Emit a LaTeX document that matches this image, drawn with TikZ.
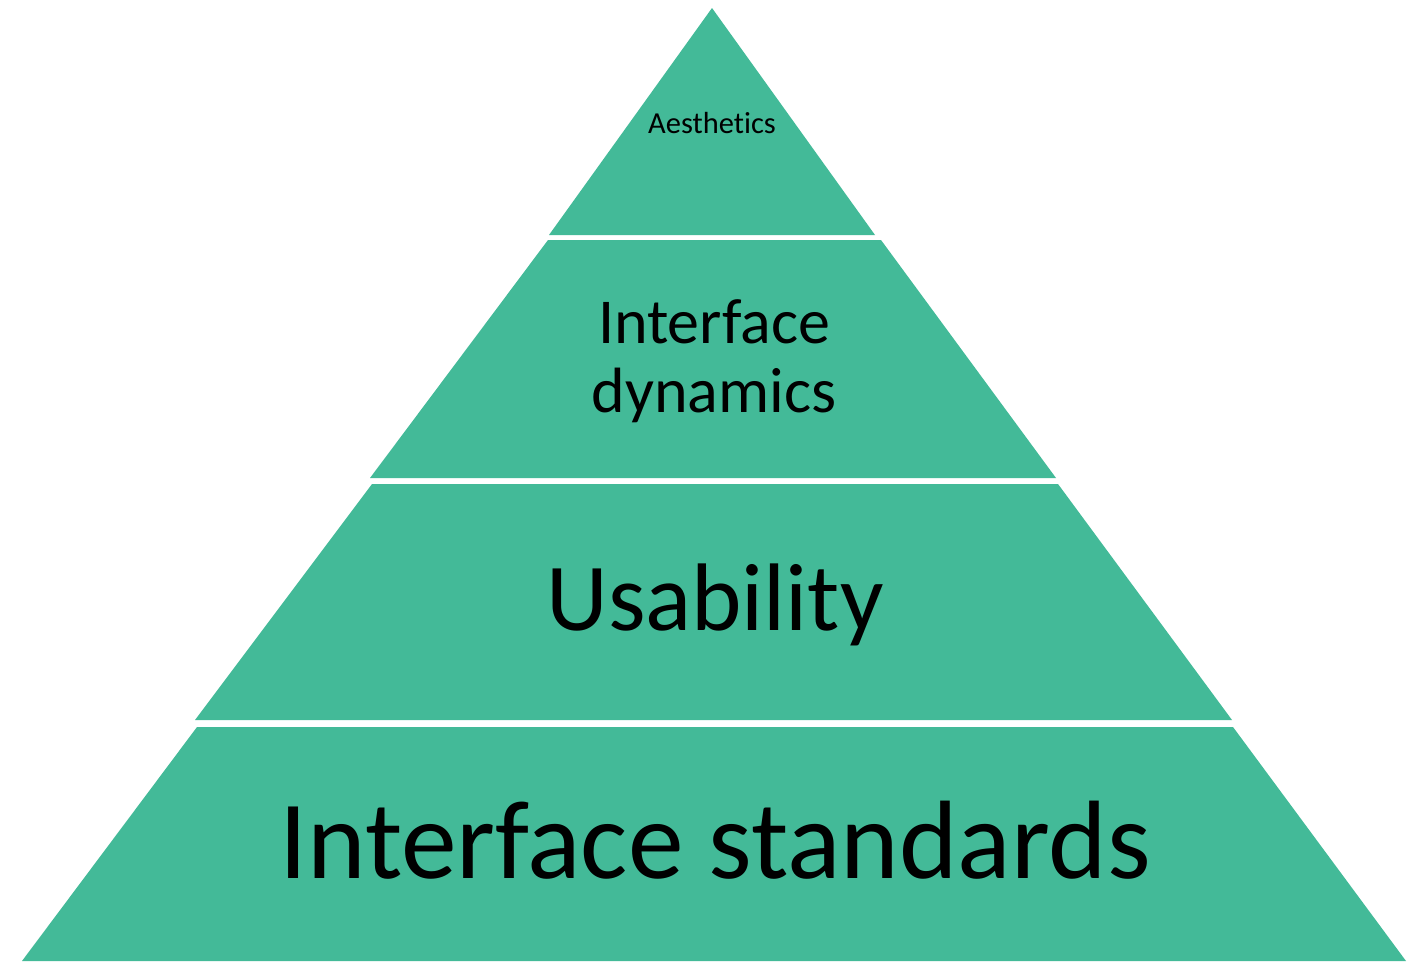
\documentclass[tikz,border=0pt]{standalone}
\usepackage{fontspec}
\setmainfont{Carlito}[Ligatures={NoCommon,TeX}]
\definecolor{pyr}{RGB}{67,186,152}
\begin{document}
\begin{tikzpicture}[x=1pt,y=-1pt,
  layer/.style={fill=pyr,draw=none},
  lbl/.style={anchor=base,inner sep=0pt,text=black,align=center}]
\useasboundingbox (0,0) rectangle (1413,961);
\fill[white] (0,0) rectangle (1413,961);
% layers
\path[layer] (712,8) -- (875,235) -- (549,235) -- cycle;
\path[layer] (548,240) -- (881,240) -- (1056,478) -- (370,478) -- cycle;
\path[layer] (372,484) -- (1058,484) -- (1232,720) -- (195,720) -- cycle;
\path[layer] (197,727) -- (1233,727) -- (1406,961) -- (22,961) -- cycle;
% labels
\node[lbl,font=\fontsize{30.5}{34}\selectfont] (aes) at (712,133) {Aesthetics};
\node[lbl,font=\fontsize{64}{69}\selectfont] (dyn1) at (714,343) {Interface};
\node[lbl,font=\fontsize{64}{69}\selectfont] (dyn2) at (714,412) {dynamics};
\node[lbl,font=\fontsize{96}{110}\selectfont] (usa) at (715,630) {Usability};
\node[lbl,font=\fontsize{111.5}{120}\selectfont] (std) at (715,878) {Interface standards};
\end{tikzpicture}
\end{document}
